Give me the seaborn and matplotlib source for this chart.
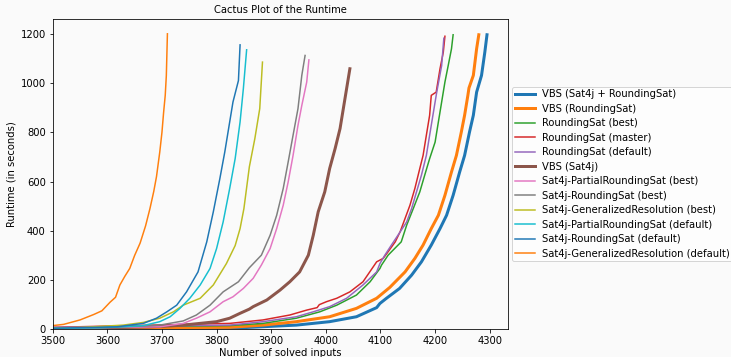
import matplotlib
matplotlib.use("Agg")
import matplotlib.pyplot as plt
import seaborn as sns
import pandas as pd

# ---- data ----
labels = [
    "VBS (Sat4j + RoundingSat)",
    "VBS (RoundingSat)",
    "RoundingSat (best)",
    "RoundingSat (master)",
    "RoundingSat (default)",
    "VBS (Sat4j)",
    "Sat4j-PartialRoundingSat (best)",
    "Sat4j-RoundingSat (best)",
    "Sat4j-GeneralizedResolution (best)",
    "Sat4j-PartialRoundingSat (default)",
    "Sat4j-RoundingSat (default)",
    "Sat4j-GeneralizedResolution (default)",
]

vbs_all_x = [3500, 3824, 3946, 4007, 4056, 4093, 4099, 4111, 4135, 4157, 4175, 4193, 4209, 4221, 4233, 4245, 4254, 4263, 4270, 4276, 4285, 4291, 4295]
vbs_all_y = [2, 4, 17, 31, 51, 88, 105, 126, 166, 220, 274, 342, 409, 463, 544, 639, 706, 801, 869, 963, 1031, 1125, 1196]

vbs_rs_x = [3500, 3824, 3885, 3946, 4007, 4056, 4093, 4117, 4145, 4163, 4178, 4193, 4206, 4218, 4230, 4239, 4248, 4254, 4260, 4262, 4270, 4276, 4280]
vbs_rs_y = [3, 8, 17, 31, 51, 85, 126, 170, 233, 288, 342, 409, 463, 544, 639, 706, 801, 869, 950, 980, 1031, 1139, 1196]

rs_best_x = [3500, 3824, 3885, 3946, 3989, 4020, 4056, 4081, 4099, 4102, 4114, 4126, 4138, 4148, 4160, 4172, 4181, 4190, 4200, 4206, 4212, 4218, 4224, 4230, 4233]
rs_best_y = [6, 15, 24, 45, 71, 98, 139, 193, 247, 261, 301, 328, 355, 423, 490, 558, 626, 693, 760, 842, 923, 1004, 1071, 1139, 1196]

rs_master_x = [3500, 3824, 3885, 3934, 3965, 3984, 3988, 4001, 4020, 4044, 4068, 4093, 4105, 4114, 4127, 4136, 4145, 4154, 4163, 4172, 4178, 4184, 4190, 4193, 4202, 4209, 4215, 4218]
rs_master_y = [8, 24, 38, 58, 78, 88, 100, 112, 126, 152, 193, 274, 288, 315, 355, 396, 450, 504, 572, 653, 706, 788, 869, 950, 963, 1058, 1125, 1190]

rs_default_x = [3500, 3824, 3885, 3946, 3977, 4007, 4038, 4068, 4093, 4099, 4108, 4120, 4132, 4148, 4157, 4166, 4175, 4184, 4190, 4196, 4203, 4212, 4216]
rs_default_y = [8, 17, 31, 51, 71, 92, 126, 180, 233, 267, 301, 342, 382, 436, 490, 558, 626, 706, 788, 869, 963, 1071, 1182]

vbs_sat4j_x = [3500, 3556, 3678, 3739, 3800, 3824, 3843, 3860, 3867, 3892, 3916, 3934, 3952, 3968, 3977, 3986, 3998, 4007, 4017, 4026, 4032, 4038, 4044]
vbs_sat4j_y = [3, 4, 10, 17, 31, 45, 65, 82, 92, 119, 159, 193, 233, 301, 382, 477, 558, 653, 734, 815, 896, 977, 1058]

s_prs_best_x = [3500, 3696, 3739, 3763, 3788, 3812, 3830, 3849, 3867, 3882, 3898, 3910, 3922, 3931, 3940, 3949, 3956, 3965, 3969]
s_prs_best_y = [5, 10, 24, 45, 71, 112, 132, 166, 207, 261, 328, 409, 504, 598, 706, 828, 909, 1004, 1094]

s_rs_best_x = [3500, 3617, 3696, 3739, 3763, 3788, 3812, 3840, 3860, 3882, 3898, 3910, 3922, 3931, 3940, 3949, 3956, 3962]
s_rs_best_y = [5, 8, 17, 34, 58, 98, 152, 193, 250, 301, 382, 463, 572, 679, 788, 896, 1031, 1112]

s_gr_best_x = [3500, 3556, 3629, 3666, 3696, 3721, 3739, 3770, 3794, 3818, 3834, 3843, 3850, 3860, 3870, 3879, 3884]
s_gr_best_y = [5, 8, 17, 28, 45, 71, 98, 126, 180, 267, 340, 409, 490, 660, 774, 896, 1085]

s_prs_def_x = [3500, 3587, 3666, 3696, 3715, 3733, 3751, 3770, 3788, 3800, 3812, 3824, 3834, 3843, 3849, 3855]
s_prs_def_y = [4, 6, 15, 31, 51, 85, 126, 180, 247, 328, 436, 572, 693, 842, 977, 1135]

s_rs_def_x = [3500, 3617, 3666, 3690, 3709, 3727, 3745, 3766, 3782, 3794, 3806, 3815, 3824, 3830, 3840, 3843]
s_rs_def_y = [4, 10, 24, 45, 71, 98, 152, 233, 355, 477, 612, 720, 842, 923, 1010, 1155]

s_gr_def_x = [3500, 3520, 3550, 3575, 3590, 3605, 3615, 3623, 3632, 3641, 3650, 3660, 3670, 3678, 3685, 3690, 3696, 3700, 3703, 3706, 3708, 3710]
s_gr_def_y = [15, 20, 38, 60, 75, 110, 130, 180, 215, 247, 300, 350, 420, 490, 560, 620, 720, 800, 880, 950, 1030, 1200]

series_x = [vbs_all_x, vbs_rs_x, rs_best_x, rs_master_x, rs_default_x, vbs_sat4j_x,
            s_prs_best_x, s_rs_best_x, s_gr_best_x, s_prs_def_x, s_rs_def_x, s_gr_def_x]
series_y = [vbs_all_y, vbs_rs_y, rs_best_y, rs_master_y, rs_default_y, vbs_sat4j_y,
            s_prs_best_y, s_rs_best_y, s_gr_best_y, s_prs_def_y, s_rs_def_y, s_gr_def_y]

colors = ["#1f77b4", "#ff7f0e", "#2ca02c", "#d62728", "#9467bd", "#8c564b",
          "#e377c2", "#7f7f7f", "#bcbd22", "#17becf", "#1f77b4", "#ff7f0e"]
widths = [3, 3, 1.5, 1.5, 1.5, 3, 1.5, 1.5, 1.5, 1.5, 1.5, 1.5]

# ---- figure ----
plt.rcParams["font.family"] = ["DejaVu Sans"]
plt.rcParams["font.size"] = 10
bg = "#fafafa"
fig = plt.figure(figsize=(731 / 72, 357 / 72), dpi=72, facecolor=bg)
ax = fig.add_axes([52.7 / 731, 1 - 329.3 / 357, (508.3 - 52.7) / 731, (329.3 - 19) / 357])
ax.set_facecolor(bg)

for lab, xs, ys, c, w in zip(labels, series_x, series_y, colors, widths):
    df = pd.DataFrame({"x": xs, "y": ys})
    sns.lineplot(data=df, x="x", y="y", ax=ax, color=c, linewidth=w,
                 label=lab, estimator=None, sort=False)

ax.set_xlim(3500, 4334)
ax.set_ylim(0, 1260)
ax.set_xticks([3500, 3600, 3700, 3800, 3900, 4000, 4100, 4200, 4300])
ax.set_yticks([0, 200, 400, 600, 800, 1000, 1200])
ax.set_title("Cactus Plot of the Runtime", fontsize=10)
ax.set_xlabel("Number of solved inputs", fontsize=10, labelpad=2)
ax.set_ylabel("Runtime (in seconds)", fontsize=10)
ax.tick_params(labelsize=10)
ax.legend(loc="center left", bbox_to_anchor=(1, 0.5), fontsize=10,
          borderaxespad=0.4, labelspacing=0.45, handletextpad=0.7, borderpad=0.25)

fig.savefig("out.png", dpi=72, facecolor=bg)
